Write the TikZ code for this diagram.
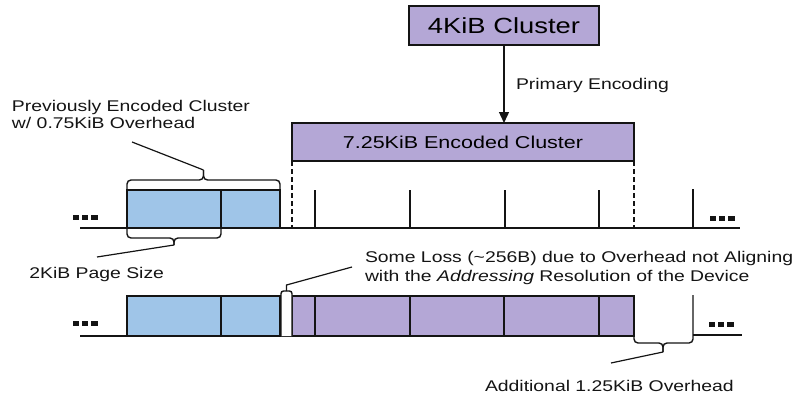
\documentclass[tikz,border=0pt]{standalone}
\usepackage{fontspec}
\setmainfont{Liberation Sans}[FakeStretch=1.25]
\usetikzlibrary{arrows.meta}
\definecolor{lav}{HTML}{B4A7D6}
\definecolor{sky}{HTML}{9FC5E8}
\definecolor{ink}{HTML}{141414}
\begin{document}
\begin{tikzpicture}[x=1pt,y=-1pt,line width=1.4pt,draw=ink,
  cell/.style={draw=ink,line width=1.5pt,inner sep=0pt,outer sep=0pt,anchor=north west},
  bluecell/.style={cell,fill=sky},
  lavcell/.style={cell,fill=lav},
  lbl/.style={inner sep=0pt,outer sep=0pt,text=ink,font=\fontsize{15.5}{18}\selectfont},
  guide/.style={line width=1.3pt,dash pattern=on 5pt off 3pt},
  lead/.style={line width=1.2pt},
  brace/.style={line width=1.4pt,rounded corners=4pt},
  dot/.style={fill=ink,draw=none}]
\useasboundingbox (0,0) rectangle (800,396);

% ---- source cluster and primary encoding ----
\node[lavcell,minimum width=190pt,minimum height=39pt,
      font=\fontsize{21.9}{24}\selectfont] (src) at (409,6) {4KiB Cluster};
\node[lavcell,minimum width=342pt,minimum height=38pt,
      font=\fontsize{17.2}{20}\selectfont] (enc) at (292,123) {7.25KiB Encoded Cluster};
\draw[-{Triangle[length=11pt,width=10pt]}] (src.south) -- (src.south |- enc.north);
\node[lbl,anchor=base west] (penc) at (516,89) {Primary Encoding};

% ---- upper track ----
\coordinate (ul) at (80,228);
\coordinate (ur) at (740,228);
\draw (ul) -- (ur);
\node[bluecell,minimum width=94pt,minimum height=38pt] (ua) at (127,190) {};
\node[bluecell,minimum width=59pt,minimum height=38pt] (ub) at (221,190) {};
\foreach \x in {315,410,505,599} \draw (\x,190) -- (\x,228);
\draw (693,189) -- (693,228);
\draw[guide] (enc.south west) -- (enc.south west |- ul);
\draw[guide] (enc.south east) -- (enc.south east |- ul);

% brace over the previous cluster
\coordinate (ptip) at (203.5,170);
\draw[brace] (ua.north west) -- (127,180) -- (203.5,180) -- (ptip);
\draw[brace] (ub.north east) -- (280,180) -- (203.5,180) -- (ptip);
\node[lbl,anchor=north west,align=left,
      font=\fontsize{15.5}{17.6}\selectfont] (prev) at (12,100)
  {Previously Encoded Cluster\\w/ 0.75KiB Overhead};
\coordinate (plead) at (132,142);
\draw[lead] (plead) -- (ptip);

% brace under one page
\coordinate (gtip) at (174,245);
\draw[brace] (ua.south west) -- (127,238) -- (174,238) -- (gtip);
\draw[brace] (ua.south east) -- (221,238) -- (174,238) -- (gtip);
\coordinate (glead) at (97,257);
\draw[lead] (gtip) -- (glead);
\node[lbl,anchor=base east] (page) at (164,278) {2KiB Page Size};

% ---- lower track ----
\coordinate (ll) at (80,336);
\draw (ll) -- (634,336);
\node[bluecell,minimum width=94pt,minimum height=40pt] (la) at (127,296) {};
\node[bluecell,minimum width=59pt,minimum height=40pt] (lb) at (221,296) {};
\node[lavcell,minimum width=23pt,minimum height=40pt] (c1) at (292,296) {};
\node[lavcell,minimum width=95pt,minimum height=40pt] (c2) at (315,296) {};
\node[lavcell,minimum width=94pt,minimum height=40pt] (c3) at (410,296) {};
\node[lavcell,minimum width=95pt,minimum height=40pt] (c4) at (504,296) {};
\node[lavcell,minimum width=35pt,minimum height=40pt] (c5) at (599,296) {};
% lost slot between blue and purple
\draw[line width=1.4pt,fill=white,rounded corners=2.5pt]
  (281,336) -- (281,291) -- (292,291) -- (292,336);
\coordinate (lossTop) at (286.5,291);
\coordinate (lossLead) at (352,267);
\draw[lead] (lossTop) -- (286.5,285) -- (lossLead);
\node[lbl,anchor=north west,align=left,
      font=\fontsize{15.5}{19.7}\selectfont] (loss) at (365,251)
  {Some Loss (\char"007E 256B) due to Overhead not Aligning\\with the \textit{Addressing} Resolution of the Device};

% overhead gap brace and the rest of the track
\coordinate (otip) at (663,352);
\draw[brace] (c5.south east) -- (634,343) -- (663,343) -- (otip);
\draw[brace] (693,295) -- (693,343) -- (663,343) -- (otip);
\coordinate (lr) at (742,335);
\draw (693,335) -- (lr);
\coordinate (olead) at (611,363);
\draw[lead] (otip) -- (olead);
\node[lbl,anchor=base west] (over) at (485,391) {Additional 1.25KiB Overhead};

% ---- continuation dots ----
\foreach \x/\y in {73/215,710/216,73/321,709/322}{
  \foreach \k in {0,1,2}
    \fill[dot] (\x+\k*9.2,\y) rectangle ++(6.2,5);
}
\end{tikzpicture}
\end{document}
